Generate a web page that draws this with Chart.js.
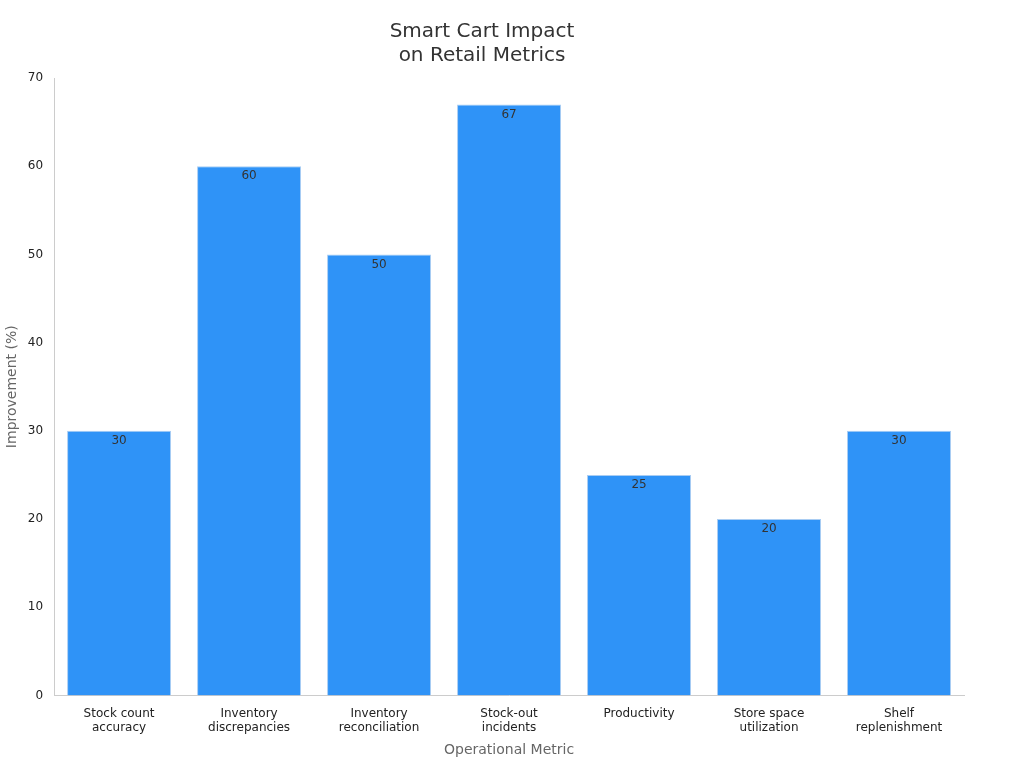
<!DOCTYPE html>
<html><head><meta charset="utf-8">
<script src="https://cdn.jsdelivr.net/npm/chart.js@4"></script>
<style>html,body{margin:0;background:#fff}#w{width:1024px;height:768px}</style>
</head><body><div id="w"><canvas id="c"></canvas></div>
<script>
const categories = [["Stock count","accuracy"],["Inventory","discrepancies"],["Inventory","reconciliation"],["Stock-out","incidents"],["Productivity"],["Store space","utilization"],["Shelf","replenishment"]];
const values = [30, 60, 50, 67, 25, 20, 30];
const yTicks = [0,10,20,30,40,50,60,70];

const labelPlugin = {
  id: 'lbl',
  afterDatasetsDraw(chart) {
    const ctx = chart.ctx;
    const meta = chart.getDatasetMeta(0);
    ctx.save();
    ctx.font = '12px "DejaVu Sans"';
    ctx.fillStyle = '#333';
    ctx.textAlign = 'center';
    ctx.textBaseline = 'top';
    meta.data.forEach((b, i) => ctx.fillText(String(values[i]), b.x, b.y + 4));
    ctx.restore();
  }
};

new Chart(document.getElementById('c'), {
  type: 'bar',
  data: { labels: categories, datasets: [{ data: values, backgroundColor: '#2f93f7', borderColor: '#a9cdf3', borderWidth: 1, categoryPercentage: 0.8, barPercentage: 1 }] },
  options: {
    responsive: true, maintainAspectRatio: false, animation: false,
    layout: { padding: { left: 0, right: 60, top: 10, bottom: 5 } },
    plugins: {
      legend: { display: false }, tooltip: { enabled: false },
      title: { display: true, text: ['Smart Cart Impact', 'on Retail Metrics'], color: '#333', font: { family: 'DejaVu Sans', size: 20, weight: 'normal' }, padding: { top: 10, bottom: 10 } }
    },
    scales: {
      x: { grid: { display: false, drawTicks: true }, border: { color: '#ccc' },
           ticks: { color: '#222', font: { family: 'DejaVu Sans', size: 12 }, maxRotation: 0 },
           title: { display: true, text: 'Operational Metric', color: '#666', font: { family: 'DejaVu Sans', size: 14 } } },
      y: { min: 0, max: 70, grid: { display: false }, border: { color: '#ccc' },
           afterBuildTicks: a => { a.ticks = yTicks.map(v => ({ value: v })); },
           ticks: { color: '#222', font: { family: 'DejaVu Sans', size: 12 } },
           title: { display: true, text: 'Improvement (%)', color: '#666', font: { family: 'DejaVu Sans', size: 14 } } }
    }
  },
  plugins: [labelPlugin]
});
</script></body></html>
